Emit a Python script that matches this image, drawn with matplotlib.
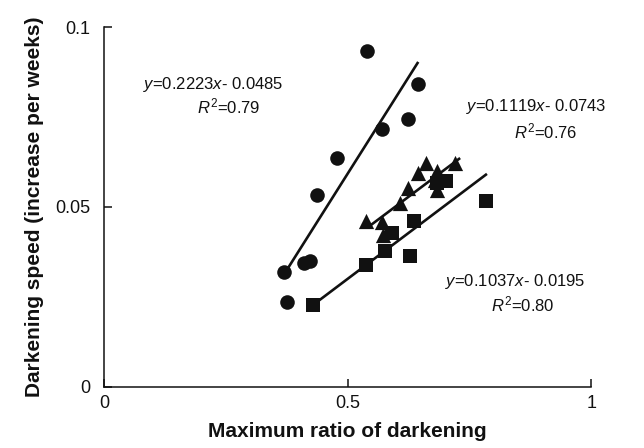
"""
Darkening speed vs maximum ratio of darkening, three groups with linear fits
"""

import matplotlib
matplotlib.use("Agg")
import matplotlib.pyplot as plt

plt.rcParams['font.family'] = ['Liberation Sans', 'DejaVu Sans']
plt.rcParams['mathtext.fontset'] = 'custom'
plt.rcParams['mathtext.rm'] = 'Liberation Sans'
plt.rcParams['mathtext.it'] = 'Liberation Sans:italic'

# circles
circle_x = [0.540, 0.645, 0.624, 0.571, 0.478, 0.437, 0.370, 0.376, 0.411, 0.423]
circle_y = [0.0933, 0.0842, 0.0744, 0.0717, 0.0636, 0.0533, 0.0319, 0.0236, 0.0344, 0.0350]

# triangles
tri_x = [0.538, 0.571, 0.573, 0.608, 0.624, 0.645, 0.661, 0.684, 0.684, 0.721, 0.680]
tri_y = [0.0461, 0.0458, 0.0422, 0.0511, 0.0553, 0.0594, 0.0622, 0.0600, 0.0547, 0.0622, 0.0575]

# squares
sq_x = [0.429, 0.538, 0.577, 0.591, 0.637, 0.628, 0.684, 0.701, 0.784]
sq_y = [0.0228, 0.0339, 0.0378, 0.0428, 0.0461, 0.0364, 0.0567, 0.0572, 0.0517]

# fitted lines as drawn (start/end)
circle_fit_x = [0.378, 0.645]
circle_fit_y = [0.0331, 0.0903]
tri_fit_x = [0.540, 0.731]
tri_fit_y = [0.0442, 0.0636]
sq_fit_x = [0.437, 0.786]
sq_fit_y = [0.0236, 0.0592]

x_ticks = [0, 0.5, 1]
x_tick_labels = ['0', '0.5', '1']
y_ticks = [0, 0.05, 0.1]
y_tick_labels = ['0', '0.05', '0.1']

ink = '#111111'

fig = plt.figure(figsize=(6.44, 4.48), dpi=100)
ax = fig.add_axes([0.1615, 0.1362, 0.7565, 0.8035])

ax.plot(circle_fit_x, circle_fit_y, color=ink, lw=1.9, solid_capstyle='butt')
ax.plot(tri_fit_x, tri_fit_y, color=ink, lw=1.9, solid_capstyle='butt')
ax.plot(sq_fit_x, sq_fit_y, color=ink, lw=1.9, solid_capstyle='butt')

ax.scatter(circle_x, circle_y, marker='o', s=110, color=ink, linewidths=0, zorder=3)
ax.scatter(tri_x, tri_y, marker='^', s=120, color=ink, linewidths=0, zorder=3)
ax.scatter(sq_x, sq_y, marker='s', s=100, color=ink, linewidths=0, zorder=3)

# equations
ax.text(0.224, 0.0839, '$y$=0.2223$x$- 0.0485', fontsize=12, ha='center', va='center', color=ink)
ax.text(0.255, 0.0778, '$R^2$=0.79', fontsize=12, ha='center', va='center', color=ink)
ax.text(0.887, 0.0778, '$y$=0.1119$x$- 0.0743', fontsize=12, ha='center', va='center', color=ink)
ax.text(0.907, 0.0710, '$R^2$=0.76', fontsize=12, ha='center', va='center', color=ink)
ax.text(0.844, 0.0292, '$y$=0.1037$x$- 0.0195', fontsize=12, ha='center', va='center', color=ink)
ax.text(0.860, 0.0228, '$R^2$=0.80', fontsize=12, ha='center', va='center', color=ink)

ax.set_xlim(0, 1)
ax.set_ylim(0, 0.1)
ax.set_xticks(x_ticks)
ax.set_xticklabels(x_tick_labels)
ax.set_yticks(y_ticks)
ax.set_yticklabels(y_tick_labels)
ax.tick_params(direction='in', length=6, width=1.1, labelsize=13, colors=ink)
ax.tick_params(axis='y', pad=10)
ax.tick_params(axis='x', pad=6)

for side in ['top', 'right']:
    ax.spines[side].set_visible(False)
for side in ['left', 'bottom']:
    ax.spines[side].set_linewidth(1.1)
    ax.spines[side].set_color(ink)

ax.set_xlabel('Maximum ratio of darkening', fontsize=15, fontweight='bold', color=ink, labelpad=7)
ax.set_ylabel('Darkening speed (increase per weeks)', fontsize=15, fontweight='bold', color=ink, labelpad=8)

fig.savefig('out.png', dpi=100)
